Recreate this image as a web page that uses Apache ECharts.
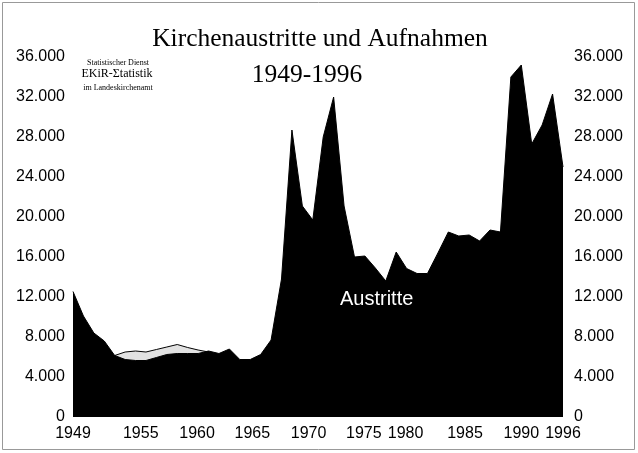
<!DOCTYPE html>
<html>
<head>
<meta charset="utf-8">
<script src="https://cdn.jsdelivr.net/npm/echarts@6/dist/echarts.min.js"></script>
<style>
    html, body { margin: 0; padding: 0; background: #fff; }
    #chart { width: 638px; height: 453px; }
</style>
</head>
<body>
<div id="chart"></div>
<script>
let years = [1949, 1950, 1951, 1952, 1953, 1954, 1955, 1956, 1957, 1958,
    1959, 1960, 1961, 1962, 1963, 1964, 1965, 1966, 1967, 1968,
    1969, 1970, 1971, 1972, 1973, 1974, 1975, 1976, 1977, 1978,
    1979, 1980, 1981, 1982, 1983, 1984, 1985, 1986, 1987, 1988,
    1989, 1990, 1991, 1992, 1993, 1994, 1995, 1996];

let austritte = [12550, 10100, 8400, 7600, 6150, 5750, 5650, 5650, 5950, 6250,
    6350, 6350, 6350, 6600, 6350, 6800, 5750, 5750, 6250, 7700,
    13800, 28700, 21100, 19700, 28000, 32000, 21100, 16000, 16100, 14900,
    13600, 16500, 14850, 14350, 14350, 16400, 18500, 18100, 18200, 17600,
    18700, 18500, 34000, 35200, 27300, 29200, 32300, 25000];

let aufnahmen = [5900, 6000, 6100, 6100, 6150, 6500, 6600, 6500, 6750, 7000,
    7250, 6950, 6700, 6500, 6000, 5600, 5300, 5000, 4700, 4300,
    4000, 3700, 3500, 3400, 3300, 3200, 3200, 3300, 3400, 3500,
    3600, 3700, 3800, 3900, 4000, 4100, 4200, 4300, 4400, 4500,
    4600, 4700, 4600, 4500, 4600, 4700, 4800, 4900];

let yearLabels = ["1949", "1955", "1960", "1965", "1970", "1975", "1980", "1985", "1990", "1996"];
// where the year labels sit along the axis (they are spaced by hand in the original)
let labelAt = [1949, 1955.5, 1960.9, 1966.2, 1971.6, 1976.9, 1980.9, 1986.6, 1992.0, 1996];

function thousands(v) {
    if (v === 0) return "0";
    let s = String(v);
    return s.slice(0, s.length - 3) + "." + s.slice(-3);
}

function pairs(vals) {
    return years.map((y, i) => [y, vals[i]]);
}

let chart = echarts.init(document.getElementById("chart"), null, {renderer: "canvas"});

let yAxisBase = {
    type: "value",
    min: 0,
    max: 36000,
    interval: 4000,
    axisLine: {show: false},
    axisTick: {show: false},
    splitLine: {show: false},
};

let option = {
    animation: false,
    backgroundColor: "#fff",
    title: [
        {
            text: "Kirchenaustritte und Aufnahmen",
            left: 315,
            top: 21,
            textAlign: "center",
            textStyle: {
                fontFamily: "Liberation Serif",
                fontSize: 25.5,
                fontWeight: "normal",
                color: "#000"
            }
        },
        {
            text: "1949-1996",
            left: 302,
            top: 57,
            textAlign: "center",
            textStyle: {
                fontFamily: "Liberation Serif",
                fontSize: 25.5,
                fontWeight: "normal",
                color: "#000"
            }
        }
    ],
    grid: {
        left: 73,
        right: 75,
        top: 57,
        bottom: 36,
        containLabel: false,
        outerBoundsMode: "none"
    },
    xAxis: {
        type: "value",
        min: 1949,
        max: 1996,
        axisLine: {show: false},
        axisTick: {show: false},
        splitLine: {show: false},
        axisLabel: {
            customValues: labelAt,
            margin: 9,
            fontFamily: "Liberation Sans",
            fontSize: 16,
            color: "#000",
            formatter: function (v) {
                let best = 0;
                labelAt.forEach((p, i) => {
                    if (Math.abs(p - v) < Math.abs(labelAt[best] - v)) best = i;
                });
                return yearLabels[best];
            }
        }
    },
    yAxis: [
        Object.assign({}, yAxisBase, {
            position: "left",
            axisLabel: {
                margin: 8,
                fontFamily: "Liberation Sans",
                fontSize: 16,
                color: "#000",
                formatter: thousands
            }
        }),
        Object.assign({}, yAxisBase, {
            position: "right",
            axisLabel: {
                margin: 11,
                fontFamily: "Liberation Sans",
                fontSize: 16,
                color: "#000",
                formatter: thousands
            }
        })
    ],
    series: [
        {
            name: "Aufnahmen",
            type: "line",
            data: pairs(aufnahmen),
            showSymbol: false,
            lineStyle: {color: "#000", width: 1},
            areaStyle: {color: "#e2e2e2", opacity: 1},
            z: 2
        },
        {
            name: "Austritte",
            type: "line",
            data: pairs(austritte),
            showSymbol: false,
            lineStyle: {color: "#000", width: 1},
            areaStyle: {color: "#000", opacity: 1},
            z: 3
        }
    ],
    graphic: [
        {
            type: "rect",
            shape: {x: 2.5, y: 2.5, width: 632, height: 447},
            style: {fill: null, stroke: "#999", lineWidth: 1},
            silent: true
        },
        {
            type: "text",
            x: 340,
            y: 299,
            z: 10,
            style: {
                text: "Austritte",
                fill: "#fff",
                font: "20px 'Liberation Sans'",
                textVerticalAlign: "middle"
            }
        },
        {
            type: "text",
            x: 118,
            y: 63,
            z: 10,
            style: {
                text: "Statistischer Dienst",
                fill: "#000",
                font: "8px 'Liberation Serif'",
                textAlign: "center",
                textVerticalAlign: "middle"
            }
        },
        {
            type: "text",
            x: 117,
            y: 74,
            z: 10,
            style: {
                text: "EKiR-Σtatistik",
                fill: "#000",
                font: "12px 'Liberation Serif'",
                textAlign: "center",
                textVerticalAlign: "middle"
            }
        },
        {
            type: "text",
            x: 118,
            y: 88,
            z: 10,
            style: {
                text: "im Landeskirchenamt",
                fill: "#000",
                font: "8px 'Liberation Serif'",
                textAlign: "center",
                textVerticalAlign: "middle"
            }
        }
    ]
};

chart.setOption(option);
</script>
</body>
</html>
